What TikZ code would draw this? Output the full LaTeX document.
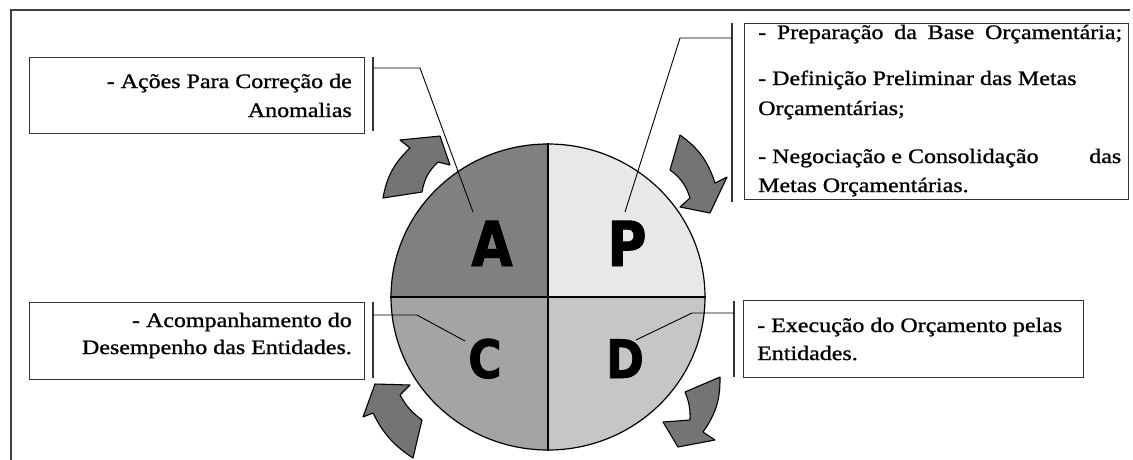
\documentclass[tikz,border=0pt]{standalone}
\usepackage{fontspec}
\setmainfont[FakeStretch=1.17,FakeBold=1.0]{Liberation Serif}
\newfontfamily\letfont[FakeStretch=0.86,FakeBold=1.5]{DejaVu Sans}
\usetikzlibrary{shapes.geometric}
\definecolor{qA}{HTML}{808080}
\definecolor{qP}{HTML}{E8E8E8}
\definecolor{qC}{HTML}{A4A4A4}
\definecolor{qD}{HTML}{C6C6C6}
\definecolor{arrfill}{HTML}{747474}
\begin{document}
\begin{tikzpicture}[x=1pt,y=-1pt,
  frame/.style={draw=black!75, line width=1.2pt},
  box/.style={draw=black!80, line width=1.3pt, rectangle, inner sep=0pt, anchor=north west},
  bar/.style={draw=black!80, line width=1.3pt},
  conn/.style={draw=black, line width=0.9pt},
  txt/.style={inner sep=0pt, text=black, font=\fontsize{20.5}{24}\selectfont},
  biglet/.style={inner sep=0pt, anchor=base, font=\letfont\bfseries\fontsize{62}{62}\selectfont},
  smalllet/.style={inner sep=0pt, anchor=base, font=\letfont\bfseries\fontsize{53}{53}\selectfont},
  cyc/.style={draw=black, line width=1.1pt, fill=arrfill, line join=round}
]
\useasboundingbox (0,0) rectangle (1133,459);
\fill[white] (0,0) rectangle (1133,459);
% frame
\draw[frame] (1130,10) -- (11,10) -- (11,460);

% circle quadrants
\begin{scope}
\clip (548,297) ellipse [x radius=157, y radius=153];
\fill[qA] (380,130) rectangle (548,297);
\fill[qP] (548,130) rectangle (720,297);
\fill[qC] (380,297) rectangle (548,470);
\fill[qD] (548,297) rectangle (720,470);
\end{scope}
\node[draw=black, line width=1.2pt, ellipse, minimum width=314pt, minimum height=306pt, inner sep=0pt] (circ) at (548,297) {};
\draw[line width=1.2pt] (circ.north) -- (circ.south);
\draw[line width=1.2pt] (circ.west) -- (circ.east);

% letters
\node[biglet] (lA) at (492,266) {A};
\node[biglet] (lP) at (627,266) {P};
\node[smalllet] (lC) at (485,378) {C};
\node[smalllet] (lD) at (625,378) {D};

% boxes
\node[box, minimum width=335pt, minimum height=76pt] (boxA) at (29,57) {};
\node[box, minimum width=384pt, minimum height=176pt] (boxP) at (744,23) {};
\node[box, minimum width=335pt, minimum height=77pt] (boxC) at (29,302) {};
\node[box, minimum width=340pt, minimum height=77pt] (boxD) at (743,300) {};

% bars
\draw[bar] (373,57) -- (373,131);
\draw[bar] (732,23) -- (732,202);
\draw[bar] (373,302) -- (373,378);
\draw[bar] (734,301) -- (734,377);

% connectors
\coordinate (cA0) at (373,68);  \coordinate (cA1) at (420,68);  \coordinate (cA2) at (473,212);
\coordinate (cP0) at (732,38);  \coordinate (cP1) at (680,38);  \coordinate (cP2) at (625,212);
\coordinate (cC0) at (373,315); \coordinate (cC1) at (417,315); \coordinate (cC2) at (465,341);
\coordinate (cD0) at (734,313); \coordinate (cD1) at (692,313); \coordinate (cD2) at (636,340);
\draw[conn] (cA0) -- (cA1) -- (cA2);
\draw[conn] (cP0) -- (cP1) -- (cP2);
\draw[conn] (cC0) -- (cC1) -- (cC2);
\draw[conn] (cD0) -- (cD1) -- (cD2);

% cycle arrows
\draw[cyc] (383,198) to[bend left=18] (410,148) -- (400,140) -- (440,136) -- (450,165) -- (438,162) to[bend right=18] (422,192) -- cycle;
\draw[cyc] (680,135) to[bend left=18] (715,183) -- (727,177) -- (710,213) -- (680,207) -- (690,198) to[bend right=18] (670,170) -- cycle;
\draw[cyc] (720,377) to[bend left=18] (703,432) -- (715,440) -- (678,447) -- (663,422) -- (690,420) to[bend right=12] (685,392) -- cycle;
\draw[cyc] (413,458) to[bend left=15] (373,413) -- (363,417) -- (375,384) -- (410,385) -- (400,395) to[bend right=12] (422,420) -- cycle;

% texts
\node[txt, anchor=base east] (tA1) at (352,88) {- Ações Para Correção de};
\node[txt, anchor=base east] (tA2) at (352,117) {Anomalias};
\node[txt, anchor=base east] (tC1) at (352,327) {- Acompanhamento do};
\node[txt, anchor=base east] (tC2) at (352,354) {Desempenho das Entidades.};
\node[txt, anchor=base west] (tD1) at (757,332) {- Execução do Orçamento pelas};
\node[txt, anchor=base west] (tD2) at (757,360) {Entidades.};
\node[txt, anchor=base west] (tP1) at (758,39) {\makebox[364pt][s]{- Preparação da Base Orçamentária;}};
\node[txt, anchor=base west] (tP2) at (758,85) {- Definição Preliminar das Metas};
\node[txt, anchor=base west] (tP3) at (758,115) {Orçamentárias;};
\node[txt, anchor=base west] (tP4) at (758,163) {\makebox[363pt][l]{- Negociação e Consolidação\hfill das}};
\node[txt, anchor=base west] (tP5) at (758,192) {Metas Orçamentárias.};
\end{tikzpicture}
\end{document}
